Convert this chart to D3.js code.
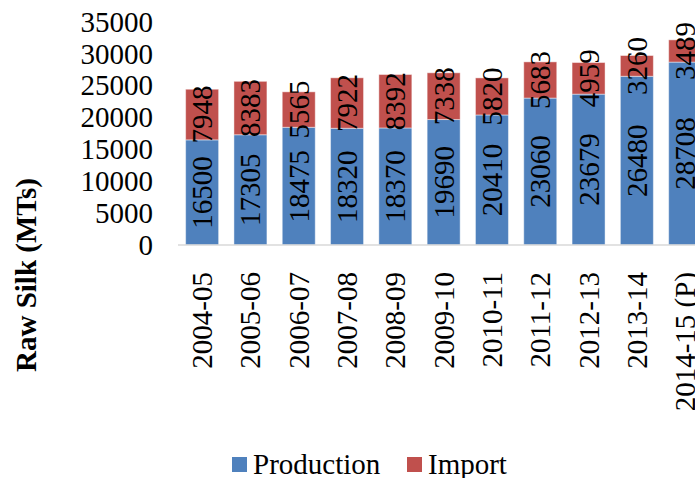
<!DOCTYPE html>
<html>
<head>
<meta charset="utf-8">
<script src="https://cdn.jsdelivr.net/npm/d3@7"></script>
<style>
  html, body { margin: 0; padding: 0; background: #fff; overflow: hidden; }
  svg { display: block; font-family: "Liberation Serif", "Times New Roman", serif; }
</style>
</head>
<body>
<div id="chart"></div>
<script>
// Data
const years = ['2004-05', '2005-06', '2006-07', '2007-08', '2008-09', '2009-10',
               '2010-11', '2011-12', '2012-13', '2013-14', '2014-15 (P)'];
const production = [16500, 17305, 18475, 18320, 18370, 19690, 20410, 23060, 23679, 26480, 28708];
const imports = [7948, 8383, 5565, 7922, 8392, 7338, 5820, 5683, 4959, 3260, 3489];
const yTicks = [0, 5000, 10000, 15000, 20000, 25000, 30000, 35000];
const seriesNames = ['Production', 'Import'];
const colors = ['#4F81BD', '#C0504D'];

const W = 695, H = 478;
const FONT = '29px';
const margin = { top: 22, left: 178, bottom: 233 };
const plotW = 531.3;
const baseY = H - margin.bottom;

const svg = d3.select('#chart').append('svg')
    .attr('width', W)
    .attr('height', H);

const x = d3.scaleBand()
    .domain(years)
    .range([margin.left, margin.left + plotW])
    .paddingInner(0.317)
    .paddingOuter(0.158);

const y = d3.scaleLinear()
    .domain([0, 35000])
    .range([baseY, margin.top]);

const rows = years.map((yr, i) => ({ year: yr, Production: production[i], Import: imports[i] }));
const stacked = d3.stack().keys(seriesNames)(rows);

// Bars
const layers = svg.append('g').selectAll('g')
    .data(stacked)
    .enter().append('g')
    .attr('fill', (d, i) => colors[i]);

layers.selectAll('rect')
    .data(d => d)
    .enter().append('rect')
    .attr('x', d => x(d.data.year))
    .attr('width', x.bandwidth())
    .attr('y', d => y(d[1]))
    .attr('height', d => y(d[0]) - y(d[1]))
    .attr('stroke', 'rgba(255,255,255,0.45)')
    .attr('stroke-width', 1);

// Value labels (rotated, centered in each segment)
stacked.forEach((layer, li) => {
    svg.append('g').selectAll('text')
        .data(layer)
        .enter().append('text')
        .attr('transform', d => {
            const cx = x(d.data.year) + x.bandwidth() / 2;
            const cy = (y(d[0]) + y(d[1])) / 2;
            return `translate(${cx},${cy}) rotate(-90)`;
        })
        .attr('text-anchor', 'middle')
        .attr('dominant-baseline', 'central')
        .style('font-size', FONT)
        .attr('fill', '#000')
        .text(d => d.data[seriesNames[li]]);
});

// X axis line
svg.append('line')
    .attr('x1', margin.left).attr('x2', W)
    .attr('y1', baseY).attr('y2', baseY)
    .attr('stroke', '#D9D9D9')
    .attr('stroke-width', 1.5);

// X labels
svg.append('g').selectAll('text')
    .data(years)
    .enter().append('text')
    .attr('transform', d => `translate(${x(d) + x.bandwidth() / 2},${baseY + 27}) rotate(-90)`)
    .attr('text-anchor', 'end')
    .attr('dominant-baseline', 'central')
    .style('font-size', FONT)
    .text(d => d);

// Y tick labels
const yAxis = d3.axisLeft(y).tickValues(yTicks).tickSize(0).tickPadding(0).tickFormat(d => d);
const gy = svg.append('g')
    .attr('transform', 'translate(153,0)')
    .call(yAxis);
gy.select('.domain').remove();
gy.selectAll('.tick text')
    .attr('fill', '#000')
    .style('font-size', FONT)
    .style('font-family', '"Liberation Serif", "Times New Roman", serif');

// Y axis title
svg.append('text')
    .attr('transform', 'translate(26,275) rotate(-90)')
    .attr('text-anchor', 'middle')
    .attr('dominant-baseline', 'central')
    .style('font-size', FONT)
    .style('font-weight', 'bold')
    .text('Raw Silk (MTs)');

// Legend
const legendX = [232, 407];
const legend = svg.append('g').selectAll('g')
    .data(seriesNames)
    .enter().append('g')
    .attr('transform', (d, i) => `translate(${legendX[i]},457)`);
legend.append('rect')
    .attr('width', 15).attr('height', 15)
    .attr('fill', (d, i) => colors[i]);
legend.append('text')
    .attr('x', 21).attr('y', 17)
    .style('font-size', FONT)
    .text(d => d);
</script>
</body>
</html>
